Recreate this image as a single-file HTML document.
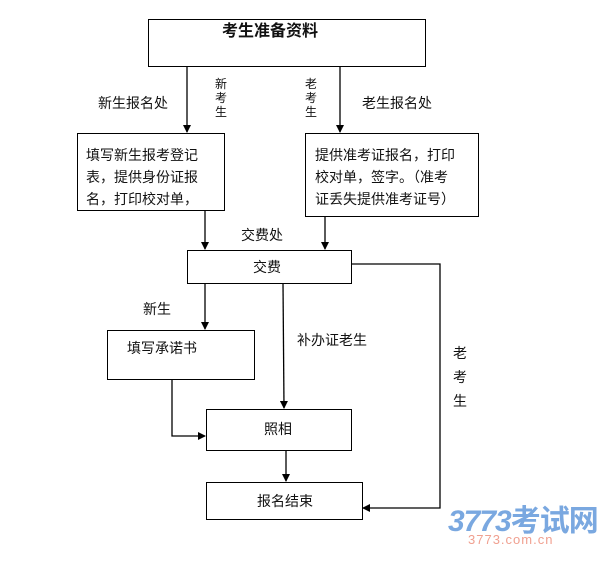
<!DOCTYPE html>
<html><head><meta charset="utf-8"><style>
body{margin:0;width:616px;height:565px;background:#fff;position:relative;overflow:hidden;font-family:"Liberation Sans","Noto Sans CJK SC",sans-serif;color:#111}
.b{position:absolute;border:1.3px solid #000;box-sizing:border-box;background:#fff}
.t{position:absolute;font-size:14px;line-height:16px;white-space:nowrap}
.r{color:#999;font-size:10px}
svg{position:absolute;left:0;top:0}
</style></head><body>
<svg width="616" height="565">
<defs><marker id="a" markerWidth="8" markerHeight="8" refX="7" refY="4" orient="auto" markerUnits="userSpaceOnUse"><path d="M0,0L8,4L0,8z" fill="#000"/></marker></defs>
<g stroke="#000" stroke-width="1.3" fill="none">
<line x1="187" y1="66" x2="187" y2="132" marker-end="url(#a)"/>
<line x1="340" y1="66" x2="340" y2="132" marker-end="url(#a)"/>
<line x1="205" y1="210" x2="205" y2="249" marker-end="url(#a)"/>
<line x1="325" y1="216" x2="325" y2="249" marker-end="url(#a)"/>
<line x1="205" y1="283" x2="205" y2="329" marker-end="url(#a)"/>
<line x1="283" y1="283" x2="284" y2="408" marker-end="url(#a)"/>
<polyline points="172,379 172,436 205,436" marker-end="url(#a)"/>
<line x1="286" y1="450" x2="286" y2="481" marker-end="url(#a)"/>
<polyline points="351,264 440,264 440,508 363,508" marker-end="url(#a)"/>
</g>
</svg>
<div class="b" style="left:148px;top:19px;width:278px;height:48px"></div>
<div class="t" style="left:222px;top:23px;font-size:16px;font-weight:bold;line-height:18px">考生准备资料</div>
<div class="b" style="left:77px;top:133px;width:148px;height:78px"></div>
<div class="t" style="left:86px;top:144px;line-height:22px">填写新生报考登记<br>表，提供身份证报<br>名，打印校对单，</div>
<div class="b" style="left:305px;top:133px;width:174px;height:84px"></div>
<div class="t" style="left:315px;top:144px;line-height:22px">提供准考证报名，打印<br>校对单，签字。（准考<br>证丢失提供准考证号）</div>
<div class="b" style="left:187px;top:250px;width:165px;height:34px"></div>
<div class="t" style="left:253px;top:259px">交费</div>
<div class="b" style="left:107px;top:330px;width:148px;height:50px"></div>
<div class="t" style="left:127px;top:340px">填写承诺书</div>
<div class="b" style="left:206px;top:409px;width:146px;height:42px"></div>
<div class="t" style="left:264px;top:421px">照相</div>
<div class="b" style="left:206px;top:482px;width:157px;height:38px"></div>
<div class="t" style="left:257px;top:493px">报名结束</div>
<div class="t" style="left:98px;top:95px">新生报名处</div>
<div class="t" style="left:362px;top:95px">老生报名处</div>
<div class="t" style="left:215px;top:77px;font-size:12px;line-height:14px;white-space:normal;width:13px">新考生</div>
<div class="t" style="left:305px;top:77px;font-size:12px;line-height:14px;white-space:normal;width:13px">老考生</div>
<div class="t" style="left:241px;top:227px">交费处</div>
<div class="t" style="left:143px;top:301px">新生</div>
<div class="t" style="left:297px;top:332px">补办证老生</div>
<div class="t" style="left:453px;top:341px;line-height:24px;white-space:normal;width:15px">老考生</div>
<div style="position:absolute;left:448px;top:496px;font:italic bold 30px 'Liberation Sans',sans-serif;color:#7aa8e0;letter-spacing:-1px">3773<span style="font-family:'Noto Sans CJK SC',sans-serif;font-style:normal">考试网</span></div>
<div style="position:absolute;left:468px;top:532px;font:13px 'Liberation Sans',sans-serif;color:#f0a090;letter-spacing:1px">3773.com.cn</div>
</body></html>
